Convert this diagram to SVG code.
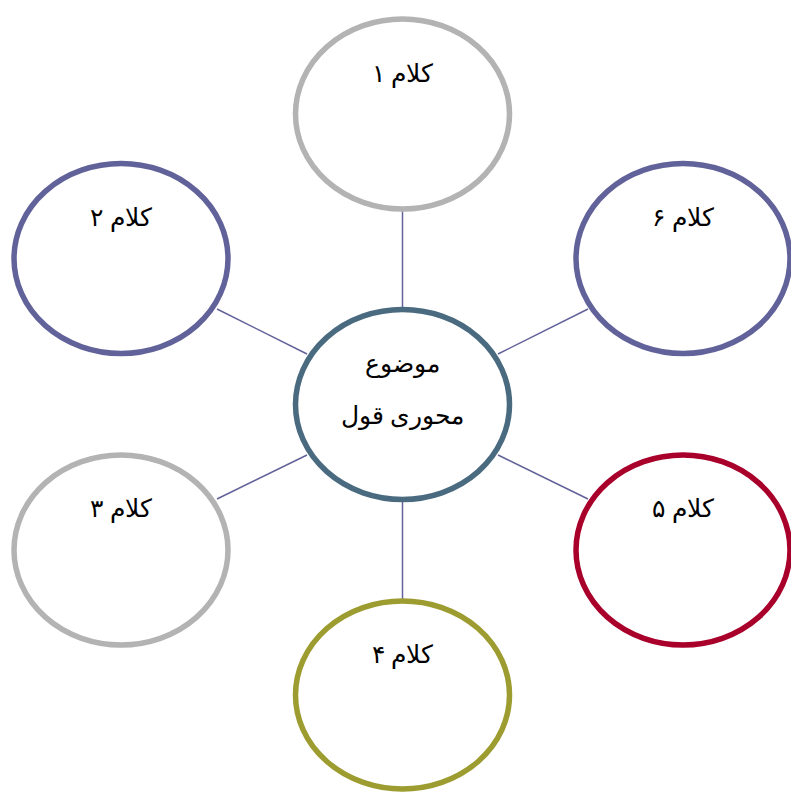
<svg xmlns="http://www.w3.org/2000/svg" width="791" height="792" viewBox="0 0 791 792">
<style>
.n{fill:#fff;stroke-width:5.5}
.g{stroke:#b3b3b3}
.p{stroke:#62629a}
.c{stroke:#4a6a80}
.r{stroke:#a8002b}
.o{stroke:#9c9c30}
.e line{stroke:#62629a;stroke-width:1.5}
text{font-family:"Liberation Serif","DejaVu Serif","Noto Sans",serif;font-size:25px;fill:#000;text-anchor:middle}
</style>
<rect width="791" height="792" fill="#fff"/>
<g id="connectors" class="e">
<line x1="402.5" y1="211" x2="402.5" y2="308"/>
<line x1="217" y1="309" x2="307" y2="354"/>
<line x1="588" y1="309" x2="498" y2="354"/>
<line x1="217" y1="499" x2="307" y2="455"/>
<line x1="588" y1="499" x2="498" y2="455"/>
<line x1="402.5" y1="501" x2="402.5" y2="599"/>
</g>
<g id="center"><ellipse class="n c" cx="402.5" cy="404.5" rx="107" ry="95"/><text x="402.5" y="372">موضوع</text><text x="402.5" y="424">محوری قول</text></g>
<g id="n1"><ellipse class="n g" cx="402.5" cy="114" rx="107" ry="95"/><text x="402.5" y="82">کلام ۱</text></g>
<g id="n2"><ellipse class="n p" cx="121" cy="258.5" rx="107" ry="95"/><text x="121" y="226">کلام ۲</text></g>
<g id="n3"><ellipse class="n g" cx="121" cy="550" rx="107" ry="95"/><text x="121" y="517">کلام ۳</text></g>
<g id="n4"><ellipse class="n o" cx="402.5" cy="695" rx="107" ry="94"/><text x="402.5" y="663">کلام ۴</text></g>
<g id="n5"><ellipse class="n r" cx="683" cy="550" rx="107" ry="95"/><text x="683" y="517">کلام ۵</text></g>
<g id="n6"><ellipse class="n p" cx="683" cy="258.5" rx="107" ry="95"/><text x="683" y="226">کلام ۶</text></g>
</svg>
